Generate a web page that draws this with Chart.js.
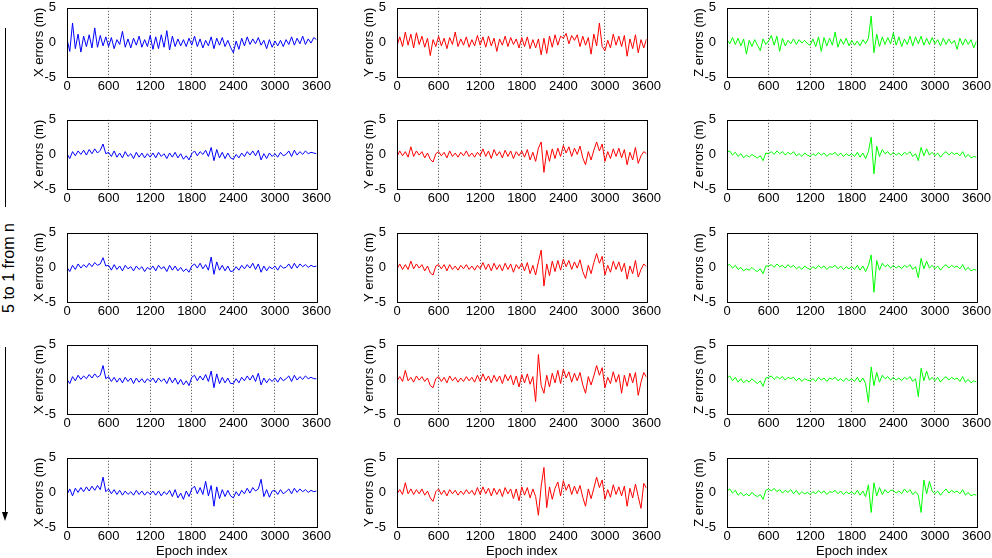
<!DOCTYPE html>
<html>
<head>
<meta charset="utf-8">
<script src="https://cdn.jsdelivr.net/npm/chart.js@4.4.0/dist/chart.umd.min.js"></script>
<style>
  html, body { margin: 0; padding: 0; background: #fff; }
  body { width: 992px; height: 558px; position: relative; overflow: hidden; font-family: "Liberation Sans", Arial, sans-serif; }
  .panel { position: absolute; }
  .vline { position: absolute; left: 5px; width: 1px; background: #000; }
  .arrow { position: absolute; left: 2px; top: 512px; width: 0; height: 0;
           border-left: 3.5px solid transparent; border-right: 3.5px solid transparent; border-top: 9px solid #000; }
  .side { position: absolute; left: 9px; top: 268px; transform: translate(-50%, -50%) rotate(-90deg);
          white-space: nowrap; font-size: 16px; color: #000; }
</style>
</head>
<body>
<div class="vline" style="top:28px;height:179px"></div>
<div class="side">5 to 1 from n</div>
<div class="vline" style="top:347px;height:167px"></div>
<div class="arrow"></div>

<script>
// epoch index (x values), one every 40 epochs
var epochs = [
  0,40,80,120,160,200,240,280,320,360,400,440,480,520,560,
  600,640,680,720,760,800,840,880,920,960,1000,1040,1080,1120,1160,
  1200,1240,1280,1320,1360,1400,1440,1480,1520,1560,1600,1640,1680,1720,1760,
  1800,1840,1880,1920,1960,2000,2040,2080,2120,2160,2200,2240,2280,2320,2360,
  2400,2440,2480,2520,2560,2600,2640,2680,2720,2760,2800,2840,2880,2920,2960,
  3000,3040,3080,3120,3160,3200,3240,3280,3320,3360,3400,3440,3480,3520,3560,
  3600
];
var xTicks = [0, 600, 1200, 1800, 2400, 3000, 3600];
var yTicks = [-5, 0, 5];

// X errors (m), rows top to bottom
var xRow1 = [
  0.5,-1.3,2.8,-0.9,1.2,-1.4,0.9,-0.6,1.1,-0.8,2.1,-0.7,1.0,-0.5,0.8,
  -0.6,0.7,-0.9,0.4,-0.3,1.6,-0.7,0.5,-0.8,0.6,-0.4,0.9,-0.7,0.4,-0.6,
  1.0,-1.0,0.8,-0.9,1.1,-0.7,1.7,-1.1,0.9,-0.6,0.5,-0.5,0.4,-0.6,0.6,
  -0.4,0.9,-0.6,0.5,-0.8,0.3,-0.5,0.8,-0.9,0.6,-0.4,0.7,-0.6,0.3,-0.7,
  -1.5,0.2,-1.0,0.6,-0.5,0.8,-0.3,0.5,-0.2,0.7,-0.4,0.3,-0.9,0.4,-0.7,
  0.2,-0.5,0.3,-0.6,0.4,-0.3,0.8,-0.4,0.6,-0.2,0.9,-0.3,0.5,-0.1,0.7,
  0.4
];
var xRow2 = [
  0.1,-0.6,0.4,-0.2,0.5,0.0,0.6,-0.1,0.7,0.1,0.8,0.2,0.6,1.5,0.1,
  0.3,-0.3,0.5,-0.4,0.2,-0.5,0.4,-0.3,0.1,-0.6,0.3,-0.4,0.2,-0.5,0.1,
  -0.4,0.2,-0.5,0.3,-0.3,0.1,-0.6,0.2,-0.4,0.3,-0.5,0.1,-0.7,-0.2,-0.8,
  0.1,0.5,-0.2,0.4,0.0,0.6,-0.3,1.0,-0.9,0.7,-0.5,0.3,-0.6,0.2,-0.5,
  -0.7,0.0,-0.5,0.2,-0.3,0.4,-0.1,0.5,-0.2,0.6,-0.8,0.1,-0.6,0.2,-0.3,
  0.1,-0.4,0.3,-0.2,0.0,0.5,-0.3,0.6,-0.1,0.4,0.0,0.5,0.1,0.3,0.2,
  0.1
];
var xRow3 = [
  0.0,-0.6,0.3,-0.3,0.5,-0.1,0.4,0.0,0.6,0.1,0.7,0.3,0.5,1.4,0.2,
  0.3,-0.4,0.4,-0.3,0.2,-0.5,0.3,-0.2,0.1,-0.5,0.2,-0.3,0.1,-0.6,0.0,
  -0.3,0.2,-0.5,0.3,-0.2,0.1,-0.6,0.3,-0.4,0.2,-0.5,0.0,-0.6,-0.2,-0.7,
  0.2,0.5,-0.1,0.6,-0.2,0.4,-0.4,1.5,-1.0,0.8,-0.4,0.3,-0.5,0.2,-0.6,
  -0.5,0.1,-0.4,0.3,-0.2,0.4,-0.1,0.6,-0.3,0.5,-0.7,0.2,-0.5,0.1,-0.2,
  0.2,-0.4,0.3,-0.1,0.0,0.5,-0.2,0.6,-0.1,0.5,0.1,0.4,0.0,0.3,0.1,
  0.2
];
var xRow4 = [
  0.0,-0.6,0.4,-0.2,0.6,0.0,0.5,0.1,0.7,0.2,0.8,0.3,0.6,2.0,0.1,
  0.4,-0.3,0.3,-0.4,0.2,-0.5,0.3,-0.3,0.2,-0.6,0.2,-0.4,0.1,-0.5,0.1,
  -0.3,0.2,-0.5,0.2,-0.3,0.1,-0.6,0.3,-0.5,0.2,-0.7,0.0,-0.8,-0.2,-0.9,
  0.3,0.6,-0.2,0.5,-0.1,0.7,-0.3,1.2,-1.2,0.8,-0.6,0.3,-0.5,0.2,-0.6,
  -0.6,0.1,-0.5,0.3,-0.2,0.5,-0.1,0.6,-0.3,0.9,-0.8,0.2,-0.5,0.1,-0.3,
  0.2,-0.4,0.3,-0.2,0.1,0.5,-0.3,0.6,-0.1,0.4,0.0,0.5,0.1,0.3,0.1,
  0.1
];
var xRow5 = [
  -0.3,0.5,-0.5,0.6,0.0,0.7,0.1,0.8,0.2,0.9,0.3,1.0,0.4,2.2,0.1,
  0.5,-0.2,0.4,-0.3,0.3,-0.4,0.2,-0.3,0.1,-0.4,0.3,-0.3,0.2,-0.4,0.1,
  -0.3,0.2,-0.4,0.2,-0.5,0.1,-0.3,0.3,-0.6,0.4,-0.8,-0.1,-1.0,0.2,-0.6,
  0.5,0.9,-0.2,0.7,-0.3,1.6,-0.5,1.0,-2.0,0.8,-0.9,0.4,-0.6,0.3,-0.5,
  -0.8,0.1,-0.5,0.3,-0.2,0.6,-0.1,0.7,0.2,0.5,1.9,-0.6,0.4,-0.7,0.2,
  0.3,-0.3,0.4,-0.2,0.1,0.5,-0.2,0.6,0.0,0.5,0.1,0.4,0.0,0.3,0.1,
  0.2
];

// Y errors (m)
var yRow1 = [
  -0.5,0.8,-0.6,1.5,-0.4,1.2,-0.8,1.4,-0.3,0.9,-0.7,0.6,-1.9,0.4,-0.6,
  0.9,-0.5,0.6,-0.9,0.7,-0.3,1.5,-0.6,0.5,-0.4,0.8,-0.7,0.4,-0.5,1.0,
  -0.4,0.8,-0.7,0.9,-0.5,0.6,-1.3,0.5,-0.4,0.9,-0.6,0.7,-0.3,0.5,-0.8,
  0.7,-0.6,0.8,-0.9,0.4,-0.8,0.5,-1.8,0.6,-1.6,0.9,-0.7,1.1,-0.4,0.9,
  0.6,1.3,-0.2,1.0,0.3,1.1,-0.6,0.9,-0.4,0.7,-1.7,1.2,-0.5,2.8,-0.6,
  -1.2,0.3,-0.8,1.2,-0.4,0.9,-0.6,1.0,-2.0,0.5,-0.9,1.1,-1.5,0.4,-0.8,
  0.5
];
var yRow2 = [
  -0.3,0.5,-0.2,0.4,-0.4,1.1,-0.3,0.5,-0.1,0.4,-0.5,0.2,-0.7,-1.1,0.1,
  0.4,-0.2,0.3,-0.5,0.5,-0.3,0.2,-0.4,0.3,-0.2,0.5,-0.3,0.2,-0.4,0.3,
  -0.2,0.8,-0.3,0.5,-0.6,0.7,-0.2,0.4,-0.5,0.6,-0.3,0.5,-0.6,0.4,-0.2,
  0.5,-0.4,0.7,-0.8,0.3,-1.0,0.9,1.8,-2.6,0.6,-1.0,0.8,-0.6,0.9,-0.3,
  1.3,0.2,1.1,-0.3,0.9,0.0,1.2,-0.5,-1.5,0.4,-0.8,0.6,1.8,0.5,1.5,
  -1.0,0.4,-0.6,0.8,-0.3,0.9,-0.5,0.7,-1.5,0.3,-0.8,1.0,-1.3,-0.2,0.4,
  0.1
];
var yRow3 = [
  -0.2,0.5,-0.3,0.4,-0.3,0.9,-0.2,0.5,-0.1,0.4,-0.5,0.2,-0.8,-1.1,0.2,
  0.4,-0.2,0.4,-0.5,0.4,-0.3,0.2,-0.4,0.3,-0.2,0.4,-0.3,0.2,-0.4,0.3,
  -0.2,0.7,-0.3,0.5,-0.5,0.6,-0.3,0.4,-0.5,0.6,-0.3,0.5,-0.7,0.4,-0.2,
  0.6,-0.5,0.7,-0.9,0.3,-1.1,0.8,2.5,-2.7,0.5,-1.2,0.9,-0.6,1.0,-0.4,
  1.2,0.1,1.0,-0.3,0.8,-0.1,1.1,-0.6,-1.6,0.3,-0.9,0.7,2.0,0.6,1.6,
  -1.1,0.3,-0.7,0.9,-0.3,0.8,-0.6,0.6,-1.7,0.2,-0.9,1.0,-1.4,-0.3,0.5,
  0.1
];
var yRow4 = [
  -0.2,0.4,-0.3,1.3,-0.2,0.3,-0.4,0.5,-0.1,0.4,-0.3,0.2,-0.9,-1.2,0.1,
  0.4,-0.3,0.3,-0.5,0.5,-0.2,0.3,-0.4,0.2,-0.3,0.4,-0.2,0.3,-0.4,0.6,
  -0.3,0.8,-0.2,0.5,-0.5,0.6,-0.3,0.5,-0.6,0.7,-0.2,0.6,-0.8,0.5,-1.1,
  0.7,-0.5,0.8,-0.7,0.4,-3.2,3.6,-0.9,-2.0,0.6,-1.1,0.9,-0.5,1.3,-0.6,
  1.5,0.2,1.1,-0.4,0.9,-0.2,1.0,-0.8,-2.0,0.4,-0.8,0.5,2.0,0.6,1.7,
  -1.2,0.3,-0.6,1.1,-0.4,0.7,-2.0,0.6,-1.0,0.9,-0.5,1.0,-2.3,-0.4,1.0,
  0.3
];
var yRow5 = [
  -0.2,0.4,-0.3,1.4,-0.2,0.5,-0.3,0.4,-0.2,0.5,-0.4,0.2,-0.8,-1.3,0.1,
  0.5,-0.3,0.3,-0.5,0.4,-0.2,0.3,-0.4,0.2,-0.3,0.4,-0.2,0.3,-0.4,0.7,
  -0.3,0.8,-0.2,0.6,-0.5,0.6,-0.3,0.5,-0.6,0.7,-0.2,0.5,-0.9,0.5,-1.2,
  0.8,-0.4,0.7,-0.8,0.5,-0.6,-3.3,0.9,3.6,-2.2,0.8,-1.0,0.6,1.5,-0.5,
  1.7,0.3,1.2,-0.3,0.9,-0.2,1.0,-0.7,-2.0,0.5,-0.9,0.6,2.2,0.7,1.8,
  -1.0,0.4,-0.7,1.1,-0.3,0.8,-0.5,0.9,-2.0,0.6,-0.8,1.2,-0.6,-2.3,1.3,
  0.6
];

// Z errors (m)
var zRow1 = [
  0.4,-0.2,0.7,-0.3,0.6,-0.5,0.5,-1.7,0.3,-0.6,0.4,-0.4,-1.2,0.5,-0.3,
  0.2,1.0,-0.4,0.9,-1.3,0.6,-0.5,0.3,-0.2,0.5,-0.3,0.4,-0.1,0.3,-0.2,
  -0.4,0.5,-0.6,0.8,-1.3,0.7,-0.5,0.6,-0.4,1.5,-0.7,0.5,-0.3,0.6,-0.5,
  0.3,-0.4,0.2,-0.5,0.4,-0.2,0.6,3.8,-1.5,1.2,-0.6,0.8,-0.3,0.7,-0.2,
  1.4,-0.4,0.8,-0.6,0.5,-0.3,0.9,-0.5,0.8,-0.2,0.9,-0.4,0.6,-0.3,0.7,
  -0.2,0.4,-0.5,0.6,-0.3,0.5,-0.2,0.3,-1.0,0.6,-0.4,0.5,-0.3,0.4,-0.8,
  0.2
];
var zRow2 = [
  0.3,0.5,-0.1,0.3,-0.3,0.1,-0.5,-0.1,-0.4,0.0,-0.3,-0.5,-0.2,-0.9,0.2,
  0.1,0.4,0.0,0.5,0.1,0.4,-0.1,0.3,0.0,0.4,-0.2,0.1,-0.3,0.2,-0.1,
  -0.3,0.1,-0.2,0.3,-0.1,0.2,-0.3,0.1,0.0,0.3,-0.2,0.2,-0.3,0.1,-0.2,
  0.1,-0.3,0.3,-0.4,0.2,-0.6,0.4,2.5,-2.8,1.2,-0.3,0.7,0.1,0.4,-0.1,
  0.3,-0.1,0.2,-0.2,0.3,0.0,0.4,-0.3,0.1,-0.9,1.0,-0.2,0.8,-0.1,0.3,
  -0.2,0.2,-0.4,0.1,0.4,-0.1,0.3,0.0,0.2,-0.2,0.4,-0.4,0.0,-0.5,-0.3,
  -0.4
];
var zRow3 = [
  0.3,0.4,-0.1,0.3,-0.3,0.0,-0.5,-0.2,-0.4,0.0,-0.4,-0.6,-0.2,-0.9,0.2,
  0.2,0.4,0.0,0.5,0.1,0.3,-0.1,0.4,0.0,0.3,-0.2,0.1,-0.3,0.2,-0.1,
  -0.3,0.1,-0.2,0.3,-0.1,0.2,-0.3,0.1,0.0,0.3,-0.2,0.2,-0.3,0.1,-0.2,
  0.1,-0.3,0.3,-0.4,0.2,-0.6,0.3,1.8,-3.6,1.0,-0.4,0.6,0.1,0.4,-0.1,
  0.3,-0.1,0.2,-0.2,0.3,0.0,0.4,-0.3,0.1,-1.5,1.3,-0.2,0.9,-0.1,0.3,
  -0.2,0.2,-0.4,0.1,0.4,-0.1,0.3,0.0,0.2,-0.2,0.4,-0.4,0.0,-0.5,-0.3,
  -0.4
];
var zRow4 = [
  0.2,0.5,-0.2,0.3,-0.4,0.1,-0.5,-0.1,-0.4,0.1,-0.3,-0.6,-0.2,-1.0,0.2,
  0.3,0.5,0.0,0.4,0.1,0.4,-0.1,0.3,0.1,0.3,-0.2,0.2,-0.3,0.1,-0.1,
  -0.2,0.1,-0.3,0.3,-0.1,0.2,-0.3,0.2,0.0,0.3,-0.2,0.1,-0.3,0.2,-0.2,
  0.1,-0.3,0.3,-0.4,0.2,-0.6,-3.3,1.8,-0.9,1.0,-0.4,0.6,0.1,0.4,-0.1,
  0.3,-0.1,0.2,-0.2,0.3,0.0,0.4,-0.3,0.1,-2.5,1.6,-0.2,1.2,-0.1,0.3,
  -0.2,0.3,-0.4,0.1,0.4,-0.1,0.3,0.0,0.2,-0.3,0.4,-0.4,0.0,-0.5,-0.2,
  -0.4
];
var zRow5 = [
  0.2,0.5,-0.1,0.3,-0.4,0.0,-0.5,-0.2,-0.5,0.0,-0.4,-0.6,-0.3,-1.0,0.3,
  0.5,0.2,0.6,0.1,0.4,-0.1,0.3,0.0,0.4,-0.2,0.3,-0.3,0.1,-0.2,0.0,
  -0.3,0.1,-0.2,0.3,-0.1,0.2,-0.3,0.1,0.0,0.3,-0.2,0.2,-0.3,0.1,-0.2,
  0.1,-0.3,0.3,-0.4,0.2,-0.6,1.1,-2.9,1.4,-0.5,0.7,-0.3,0.4,-0.1,0.3,
  0.3,-0.1,0.2,-0.2,0.5,0.0,0.4,-0.3,0.1,-0.4,-2.9,1.8,-0.2,1.6,0.2,
  -0.2,0.2,-0.4,0.1,0.5,-0.1,0.3,0.0,0.2,-0.2,0.4,-0.4,0.0,-0.5,-0.3,
  -0.4
];

var columns = [
  { label: 'X errors (m)', color: '#0000ff', rows: [xRow1, xRow2, xRow3, xRow4, xRow5] },
  { label: 'Y errors (m)', color: '#ff0000', rows: [yRow1, yRow2, yRow3, yRow4, yRow5] },
  { label: 'Z errors (m)', color: '#00ff00', rows: [zRow1, zRow2, zRow3, zRow4, zRow5] }
];

// layout of the plot boxes (pixels)
var plotLeft = [67, 397, 727];
var plotTop = [5, 117, 230, 342, 455];
var plotW = 250, plotH = 72;
var padTop = 8, padLeft = 17, yAxisW = 35, padRight = 16;

Chart.defaults.font.family = '"Liberation Sans", Arial, sans-serif';
Chart.defaults.font.size = 13;
Chart.defaults.color = '#000';

var framePlugin = {
  id: 'frame',
  afterDraw: function(chart) {
    var a = chart.chartArea, ctx = chart.ctx;
    ctx.save();
    ctx.strokeStyle = '#000';
    ctx.lineWidth = 1;
    ctx.strokeRect(Math.round(a.left) + 0.5, Math.round(a.top) + 0.5,
                   Math.round(a.right - a.left), Math.round(a.bottom - a.top));
    ctx.restore();
  }
};

function plainTick(v) { return String(v); }

columns.forEach(function(col, c) {
  col.rows.forEach(function(values, r) {
    var last = (r === col.rows.length - 1);
    var xAxisH = last ? 32 : 16;

    var box = document.createElement('div');
    box.className = 'panel';
    box.style.left = (plotLeft[c] - padLeft - yAxisW) + 'px';
    box.style.top = (plotTop[r] - padTop) + 'px';
    box.style.width = (padLeft + yAxisW + plotW + padRight) + 'px';
    box.style.height = (padTop + plotH + xAxisH) + 'px';
    var canvas = document.createElement('canvas');
    box.appendChild(canvas);
    document.body.appendChild(box);

    var points = values.map(function(v, i) { return { x: epochs[i], y: v }; });

    new Chart(canvas.getContext('2d'), {
      type: 'line',
      data: {
        datasets: [{
          data: points,
          borderColor: col.color,
          borderWidth: 1,
          pointRadius: 0,
          tension: 0,
          fill: false
        }]
      },
      options: {
        responsive: true,
        maintainAspectRatio: false,
        animation: false,
        events: [],
        layout: { padding: { top: padTop, left: padLeft, right: padRight, bottom: 0 } },
        plugins: { legend: { display: false }, tooltip: { enabled: false } },
        scales: {
          x: {
            type: 'linear',
            min: 0,
            max: 3600,
            afterBuildTicks: function(s) { s.ticks = xTicks.map(function(v) { return { value: v }; }); },
            afterFit: function(s) { s.height = xAxisH; },
            ticks: { autoSkip: false, maxRotation: 0, padding: 2, callback: plainTick },
            grid: {
              drawTicks: false,
              color: function(ctx) {
                var v = ctx.tick ? ctx.tick.value : null;
                return (v === 0 || v === 3600) ? 'rgba(0,0,0,0)' : 'rgba(0,0,0,0.75)';
              },
              lineWidth: 1
            },
            border: { display: false, dash: [1, 2] },
            title: { display: last, text: 'Epoch index', padding: 0, font: { size: 13 } }
          },
          y: {
            min: -5,
            max: 5,
            afterBuildTicks: function(s) { s.ticks = yTicks.map(function(v) { return { value: v }; }); },
            afterFit: function(s) { s.width = yAxisW; },
            ticks: { padding: 3, callback: plainTick },
            grid: { display: false },
            border: { display: false },
            title: { display: true, text: col.label, padding: 0, font: { size: 13 } }
          }
        }
      },
      plugins: [framePlugin]
    });
  });
});
</script>
</body>
</html>
